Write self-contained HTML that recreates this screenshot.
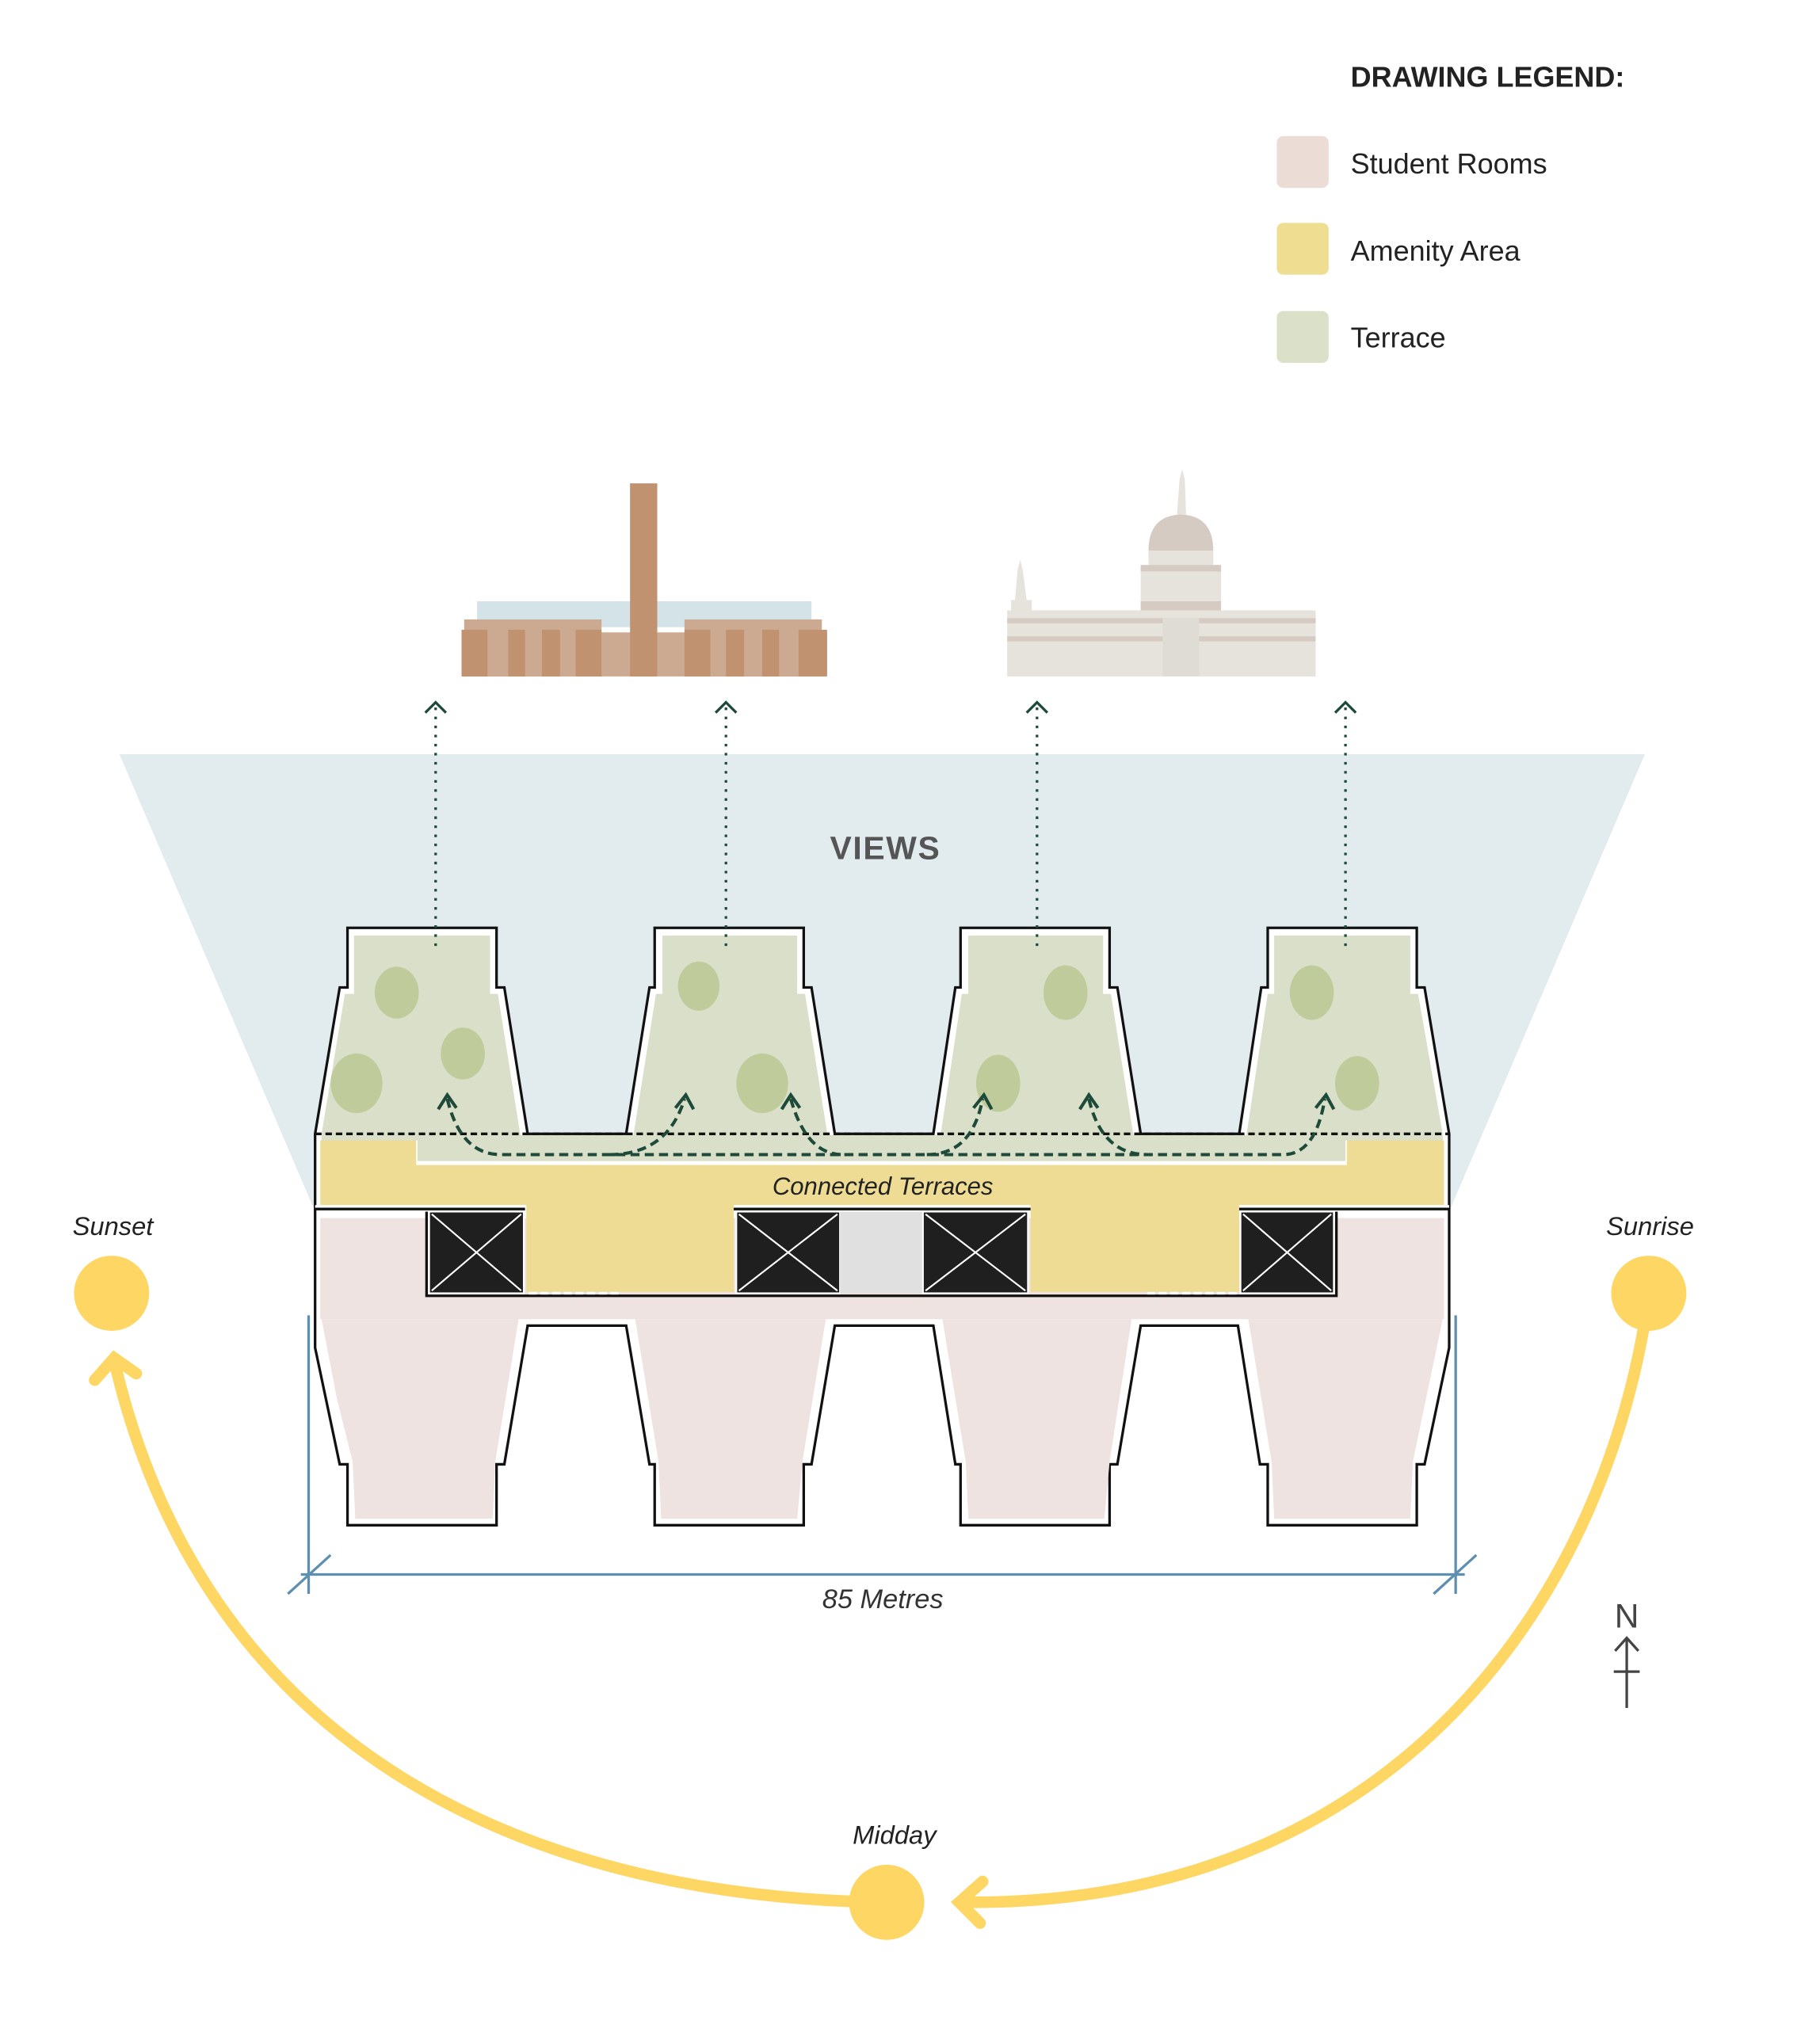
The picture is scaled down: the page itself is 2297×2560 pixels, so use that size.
<!DOCTYPE html>
<html><head><meta charset="utf-8"><style>html,body{margin:0;padding:0;background:#fff}svg{display:block}</style></head>
<body>
<svg width="2297" height="2560" viewBox="0 0 1404 1565" xmlns="http://www.w3.org/2000/svg" font-family="Liberation Sans, sans-serif">
<rect width="1404" height="1565" fill="#fff"/>
<text x="1042" y="67" font-size="22" font-weight="bold" fill="#222">DRAWING LEGEND:</text>
<rect x="985" y="105" width="40" height="40" rx="5" fill="#ecdcd6"/>
<rect x="985" y="172" width="40" height="40" rx="5" fill="#efdd92"/>
<rect x="985" y="240" width="40" height="40" rx="5" fill="#dbe1c9"/>
<text x="1042" y="134" font-size="22" fill="#222">Student Rooms</text>
<text x="1042" y="201" font-size="22" fill="#222">Amenity Area</text>
<text x="1042" y="268" font-size="22" fill="#222">Terrace</text>
<rect x="368" y="464" width="258" height="20" fill="#d3e3e8"/>
<rect x="358" y="478" width="106" height="44" fill="#ccaa92"/>
<rect x="528" y="478" width="106" height="44" fill="#ccaa92"/>
<rect x="356" y="488" width="282" height="34" fill="#ccaa92"/>
<g fill="#c0926f"><rect x="356" y="486" width="20" height="36"/><rect x="392" y="486" width="13" height="36"/><rect x="418" y="486" width="14" height="36"/><rect x="444" y="486" width="20" height="36"/><rect x="528" y="486" width="20" height="36"/><rect x="560" y="486" width="14" height="36"/><rect x="588" y="486" width="13" height="36"/><rect x="616" y="486" width="22" height="36"/><rect x="486" y="373" width="21" height="149"/></g>
<g fill="#e6e3dd"><rect x="777" y="471" width="238" height="51"/><rect x="880" y="436" width="62" height="40"/><path d="M886,425 Q886,398 911,397 Q936,398 936,425Z" fill="#d5cbc3"/><rect x="886" y="425" width="50" height="12"/><path d="M908,397 L910,370 L912,362 L914,370 L915,397Z"/><rect x="780" y="463" width="16" height="12"/><path d="M783,463 L785,440 L787,432 L789,440 L792,463Z"/></g>
<rect x="880" y="436" width="62" height="5" fill="#d5cbc3"/><rect x="880" y="464" width="62" height="7" fill="#d5cbc3"/>
<rect x="777" y="477" width="238" height="4" fill="#d5cbc3"/><rect x="777" y="491" width="238" height="4" fill="#d5cbc3"/>
<rect x="897" y="477" width="28" height="45" fill="#dfdcd5"/>
<path d="M92,582 L1269,582 L1118,935 L243,935 Z" fill="#e2ecee"/>
<text x="683" y="663" font-size="25" font-weight="bold" fill="#555" text-anchor="middle" letter-spacing="1">VIEWS</text>
<path d="M243,875 L262,762 L268,762 L268,716 L383,716 L383,762 L389,762 L407,875 L483,875 L501,762 L505,762 L505,716 L620,716 L620,762 L626,762 L644,875 L720,875 L737,762 L741,762 L741,716 L856,716 L856,762 L862,762 L880,875 L956,875 L973,762 L978,762 L978,716 L1093,716 L1093,762 L1099,762 L1118,875 L1118,1040 L1099,1130 L1093,1130 L1093,1177 L978,1177 L978,1130 L972,1130 L955,1023 L880,1023 L862,1130 L856,1130 L856,1177 L741,1177 L741,1130 L737,1130 L720,1023 L644,1023 L626,1130 L620,1130 L620,1177 L505,1177 L505,1130 L501,1130 L483,1023 L407,1023 L389,1130 L383,1130 L383,1177 L268,1177 L268,1130 L262,1130 L243,1040 Z" fill="#fff" stroke="#111" stroke-width="2"/>
<g fill="#eee3e0">
<rect x="247" y="940" width="867" height="78"/>
<path d="M248,1018 L400,1018 L382,1128 L380,1172 L274,1172 L272,1128 L260,1080 Z"/>
<path d="M490,1018 L637,1018 L619,1128 L615,1172 L510,1172 L508,1128 Z"/>
<path d="M727,1018 L873,1018 L856,1128 L852,1172 L747,1172 L745,1128 Z"/>
<path d="M963,1018 L1113,1018 L1100,1080 L1090,1128 L1088,1172 L983,1172 L981,1128 Z"/>
</g>
<g fill="#d9dfc8">
<path d="M248,875 L266,767 L273,767 L273,722 L378,722 L378,767 L384,767 L402,880 L248,880Z"/>
<path d="M488,880 L506,767 L511,767 L511,722 L615,722 L615,767 L621,767 L639,880Z"/>
<path d="M725,880 L742,767 L747,767 L747,722 L851,722 L851,767 L857,767 L875,880Z"/>
<path d="M961,880 L978,767 L983,767 L983,722 L1088,722 L1088,767 L1094,767 L1113,875 L1113,880Z"/>
<rect x="322" y="876" width="716" height="20"/>
</g>
<g fill="#c0cb9c">
<ellipse cx="306" cy="766" rx="17" ry="20"/><ellipse cx="357" cy="813" rx="17" ry="20"/><ellipse cx="275" cy="836" rx="20" ry="23"/>
<ellipse cx="539" cy="761" rx="16" ry="19"/><ellipse cx="588" cy="836" rx="20" ry="23"/>
<ellipse cx="822" cy="766" rx="17" ry="21"/><ellipse cx="770" cy="836" rx="17" ry="22"/>
<ellipse cx="1012" cy="766" rx="17" ry="21"/><ellipse cx="1047" cy="836" rx="17" ry="21"/>
</g>
<path d="M247,880 L321,880 L321,899 L1039,899 L1039,880 L1114,880 L1114,930 L247,930Z" fill="#eedc95"/>
<path d="M406,925 L566,925 L566,997 L406,997Z M795,925 L956,925 L956,997 L795,997Z" fill="#eedc95"/>
<line x1="243" y1="875" x2="1118" y2="875" stroke="#111" stroke-width="2" stroke-dasharray="5,3"/>
<g stroke="#111" stroke-width="2">
<line x1="243" y1="933" x2="405" y2="933"/><line x1="566" y1="933" x2="795" y2="933"/><line x1="956" y1="933" x2="1118" y2="933"/>
</g>
<g stroke="#fff" stroke-width="2">
<line x1="243" y1="931" x2="405" y2="931"/><line x1="566" y1="931" x2="795" y2="931"/><line x1="956" y1="931" x2="1118" y2="931"/>
</g>
<path d="M329,935 L329,1000 L1031,1000 L1031,935" fill="none" stroke="#111" stroke-width="2"/>
<line x1="408" y1="998" x2="480" y2="998" stroke="#fff" stroke-width="2" stroke-dasharray="6,3"/>
<line x1="885" y1="998" x2="955" y2="998" stroke="#fff" stroke-width="2" stroke-dasharray="6,3"/>
<g stroke="#fff" stroke-width="1.3">
<rect x="331" y="935" width="73" height="63" fill="#1f1f1f"/><line x1="333" y1="937" x2="402" y2="996"/><line x1="402" y1="937" x2="333" y2="996"/>
<rect x="568" y="935" width="80" height="63" fill="#1f1f1f"/><line x1="570" y1="937" x2="646" y2="996"/><line x1="646" y1="937" x2="570" y2="996"/>
<rect x="648" y="935" width="64" height="63" fill="#e0e0e0" stroke="none"/>
<rect x="712" y="935" width="81" height="63" fill="#1f1f1f"/><line x1="714" y1="937" x2="791" y2="996"/><line x1="791" y1="937" x2="714" y2="996"/>
<rect x="957" y="935" width="72" height="63" fill="#1f1f1f"/><line x1="959" y1="937" x2="1027" y2="996"/><line x1="1027" y1="937" x2="959" y2="996"/>
</g>
<text x="681" y="922" font-size="19" font-style="italic" fill="#222" text-anchor="middle">Connected Terraces</text>
<g stroke="#1e4a3a" stroke-width="2" fill="none">
<g stroke-dasharray="2,5"><line x1="336" y1="730" x2="336" y2="545"/><line x1="560" y1="730" x2="560" y2="545"/><line x1="800" y1="730" x2="800" y2="545"/><line x1="1038" y1="730" x2="1038" y2="545"/></g>
<path d="M328,550 L336,542 L344,550 M552,550 L560,542 L568,550 M792,550 L800,542 L808,550 M1030,550 L1038,542 L1046,550"/>
</g>
<g stroke="#1e4a3a" stroke-width="2.5" fill="none" stroke-dasharray="7,4">
<path d="M345,848 Q355,890 385,891 L990,891 Q1015,891 1022,848"/>
<path d="M470,891 Q515,891 528,848"/>
<path d="M610,848 Q622,891 650,891"/>
<path d="M715,891 Q750,891 758,848"/>
<path d="M840,848 Q850,891 885,891"/>
</g>
<g stroke="#1e4a3a" stroke-width="2.5" fill="none">
<path d="M338,856 L345,845 L352,855 M521,855 L529,845 L535,856 M603,856 L610,845 L617,855 M751,855 L759,845 L765,856 M833,856 L840,845 L847,855 M1015,855 L1023,845 L1029,856"/>
</g>
<g stroke="#5e8fb0" stroke-width="2" fill="none">
<line x1="238" y1="1015" x2="238" y2="1230"/><line x1="1123" y1="1015" x2="1123" y2="1230"/>
<line x1="232" y1="1215" x2="1130" y2="1215"/>
<line x1="222" y1="1230" x2="255" y2="1200"/><line x1="1106" y1="1230" x2="1139" y2="1200"/>
</g>
<text x="681" y="1241" font-size="21" font-style="italic" fill="#333" text-anchor="middle">85 Metres</text>
<g stroke="#fdd663" stroke-width="9" fill="none" stroke-linecap="round">
<path d="M684,1468 C420,1465 160,1360 88,1050"/>
<path d="M73,1065 L88,1048 L105,1060"/>
<path d="M1272,1000 C1240,1230 1080,1470 745,1468"/>
<path d="M758,1452 L740,1468 L756,1484"/>
</g>
<g fill="#fdd663"><circle cx="86" cy="998" r="29"/><circle cx="1272" cy="998" r="29"/><circle cx="684" cy="1468" r="29"/></g>
<g font-size="20" font-style="italic" fill="#222" text-anchor="middle">
<text x="87" y="953">Sunset</text><text x="1273" y="953">Sunrise</text><text x="690" y="1423">Midday</text>
</g>
<text x="1255" y="1256" font-size="26" fill="#444" text-anchor="middle">N</text>
<g stroke="#444" stroke-width="2" fill="none"><line x1="1255" y1="1265" x2="1255" y2="1318"/><path d="M1246,1274 L1255,1264 L1264,1274"/><line x1="1245" y1="1290" x2="1265" y2="1290"/></g>
</svg>
</body></html>
